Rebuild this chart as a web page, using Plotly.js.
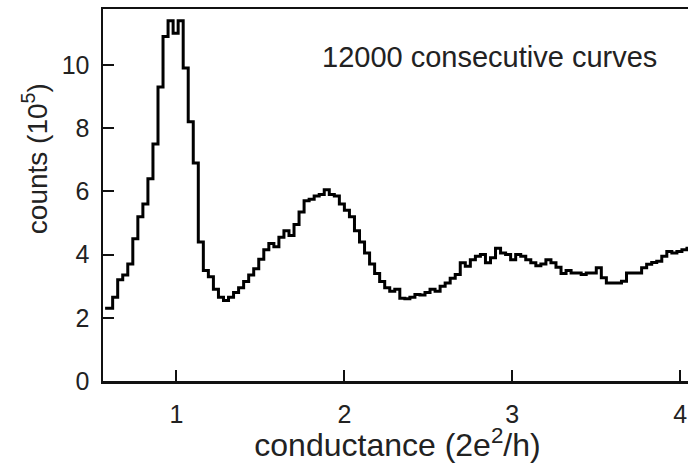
<!DOCTYPE html>
<html>
<head>
<meta charset="utf-8">
<script src="https://cdn.plot.ly/plotly-3.0.1.min.js"></script>
<style>
html,body{margin:0;padding:0;overflow:hidden;background:#fff;}
#chart{width:700px;height:463px;}
</style>
</head>
<body>
<div id="chart"></div>
<script>
// conductance bin centres (2e^2/h)
const conductance = [
0.575,0.605,0.635,0.665,0.695,0.725,0.755,0.785,0.815,0.845,
0.875,0.905,0.935,0.965,0.995,1.025,1.055,1.085,1.115,1.145,
1.175,1.205,1.235,1.265,1.295,1.325,1.355,1.385,1.415,1.445,
1.475,1.505,1.535,1.565,1.595,1.625,1.655,1.685,1.715,1.745,
1.775,1.805,1.835,1.865,1.895,1.925,1.955,1.985,2.015,2.045,
2.075,2.105,2.135,2.165,2.195,2.225,2.255,2.285,2.315,2.345,
2.375,2.405,2.435,2.465,2.495,2.525,2.555,2.585,2.615,2.645,
2.675,2.705,2.735,2.765,2.795,2.825,2.855,2.885,2.915,2.945,
2.975,3.005,3.035,3.065,3.095,3.125,3.155,3.185,3.215,3.245,
3.275,3.305,3.335,3.365,3.395,3.425,3.455,3.485,3.515,3.545,
3.575,3.605,3.635,3.665,3.695,3.725,3.755,3.785,3.815,3.845,
3.875,3.905,3.935,3.965,3.995,4.025,4.055
];
// counts (10^5)
const counts = [
2.30,2.30,2.65,3.20,3.35,3.70,4.50,5.20,5.60,6.40,
7.50,9.30,10.90,11.40,11.00,11.40,9.90,8.20,6.90,4.40,
3.50,3.30,2.90,2.65,2.55,2.65,2.80,2.95,3.15,3.35,
3.55,3.85,4.15,4.35,4.25,4.55,4.75,4.60,4.95,5.35,
5.70,5.75,5.85,5.90,6.05,5.90,5.85,5.60,5.40,5.20,
4.75,4.40,4.05,3.70,3.40,3.15,2.95,2.84,2.90,2.62,
2.60,2.65,2.74,2.72,2.80,2.90,2.84,3.00,3.10,3.25,
3.37,3.74,3.63,3.84,3.95,4.00,3.74,3.90,4.20,4.05,
4.00,3.84,4.00,3.95,3.84,3.74,3.65,3.70,3.84,3.74,
3.60,3.40,3.50,3.42,3.42,3.37,3.42,3.42,3.58,3.27,
3.10,3.10,3.10,3.16,3.42,3.42,3.42,3.58,3.69,3.75,
3.79,3.95,4.10,4.05,4.10,4.15,4.20
];
const xTickVals = [1,2,3,4];
const xTickText = ["1","2","3","4"];
const yTickVals = [0,2,4,6,8,10];
const yTickText = ["0","2","4","6","8","10"];
const annotationText = "12000 consecutive curves";
const xTitle = "conductance (2e<sup>2</sup>/h)";
const yTitle = "counts (10<sup>5</sup>)";

const FONT = "Liberation Sans, Arial, Helvetica, sans-serif";
const trace = {
  x: conductance,
  y: counts,
  type: "scatter",
  mode: "lines",
  line: {shape: "hvh", color: "#000", width: 3},
  hoverinfo: "x+y"
};
const layout = {
  width: 700, height: 463,
  margin: {l: 103, r: 8, t: 9, b: 82, pad: 0},
  paper_bgcolor: "#fff", plot_bgcolor: "#fff",
  showlegend: false,
  font: {family: FONT, color: "#222", size: 24},
  xaxis: {
    range: [0.5625, 4.07],
    showline: true, linecolor: "#111", linewidth: 2.5, mirror: true,
    showgrid: false, zeroline: false,
    ticks: "inside", ticklen: 11, tickwidth: 2, tickcolor: "#111",
    tickvals: xTickVals, ticktext: xTickText,
    tickfont: {family: FONT, size: 25, color: "#222"},
    ticklabelstandoff: 9,
    title: {text: xTitle, font: {family: FONT, size: 32, color: "#222"}, standoff: 0}
  },
  yaxis: {
    range: [0, 11.77],
    showline: true, linecolor: "#111", linewidth: 2.5, mirror: true,
    showgrid: false, zeroline: false,
    ticks: "inside", ticklen: 11, tickwidth: 2, tickcolor: "#111",
    tickvals: yTickVals, ticktext: yTickText,
    tickfont: {family: FONT, size: 25, color: "#222"},
    ticklabelstandoff: 6
  },
  annotations: [
    {text: annotationText, xref: "paper", yref: "paper", x: 0.657, y: 0.871,
     xanchor: "center", yanchor: "middle", showarrow: false,
     font: {family: FONT, size: 29, color: "#222"}},
    {text: yTitle, xref: "paper", yref: "paper", x: -0.115, y: 0.597,
     xanchor: "center", yanchor: "middle", showarrow: false, textangle: -90,
     font: {family: FONT, size: 28, color: "#222"}}
  ]
};
Plotly.newPlot("chart", [trace], layout, {displayModeBar: false, staticPlot: true});
</script>
</body>
</html>
